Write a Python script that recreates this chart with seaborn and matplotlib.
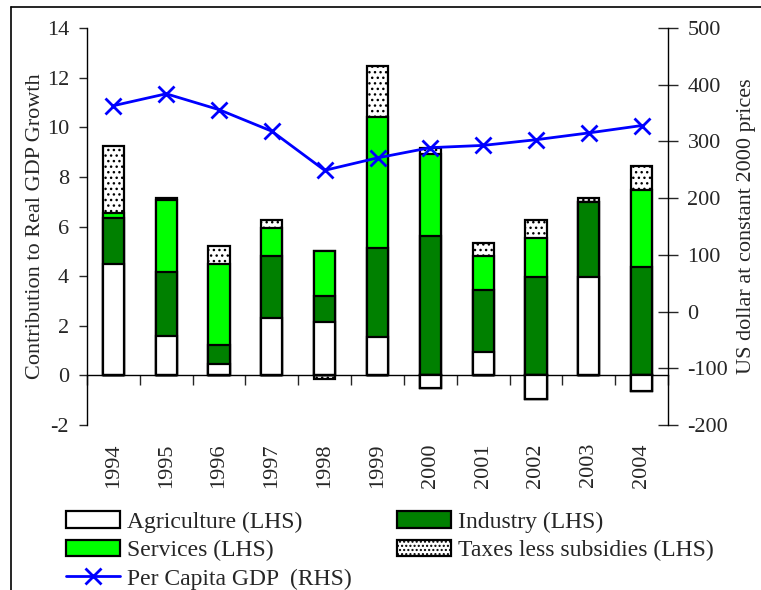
import numpy as np
import pandas as pd
import matplotlib
matplotlib.use("Agg")
import matplotlib.pyplot as plt
import seaborn as sns
from matplotlib.patches import Patch
from matplotlib.lines import Line2D

# ---- data ----
years = ['1994', '1995', '1996', '1997', '1998', '1999', '2000', '2001', '2002', '2003', '2004']
agriculture = [4.50, 1.60, 0.47, 2.33, 2.16, 1.53, -0.49, 0.95, -0.95, 3.95, -0.62]
industry = [1.85, 2.58, 0.74, 2.49, 1.05, 3.61, 5.61, 2.51, 3.95, 3.03, 4.36]
services = [0.21, 2.88, 3.28, 1.11, 1.79, 5.29, 3.30, 1.36, 1.60, 0.00, 3.10]
taxes = [2.68, 0.10, 0.73, 0.34, -0.15, 2.04, 0.25, 0.50, 0.73, 0.17, 0.98]
per_capita = [363, 384, 356, 318, 249, 271, 289, 293, 303, 315, 328]

series_names = ['Agriculture (LHS)', 'Industry (LHS)', 'Services (LHS)', 'Taxes less subsidies (LHS)']
line_name = 'Per Capita GDP  (RHS)'
left_label = 'Contribution to Real GDP Growth'
right_label = 'US dollar at constant 2000 prices'

colors = ['#FFFFFF', '#008000', '#00FF00', '#FFFFFF']
hatches = [None, None, None, '...']
line_color = '#0000FF'

sns.set_style('white')
plt.rcParams['font.family'] = ['Liberation Serif', 'DejaVu Serif']
plt.rcParams['hatch.linewidth'] = 1.0
plt.rcParams['axes.unicode_minus'] = False

fig = plt.figure(figsize=(7.61, 5.90), dpi=100)
ax = fig.add_axes([87 / 761, 1 - 425 / 590, (668 - 87) / 761, (425 - 28) / 590])

layers = np.array([agriculture, industry, services, taxes])
pos_cum = np.cumsum(np.clip(layers, 0, None), axis=0)
neg_cum = np.cumsum(np.clip(layers, None, 0), axis=0)

for i in reversed(range(len(layers))):
    for cum in (pos_cum, neg_cum):
        sns.barplot(x=years, y=cum[i], color=colors[i], saturation=1, edgecolor='black',
                    linewidth=1.6, width=0.4, errorbar=None, hatch=hatches[i], ax=ax)

ax.set_ylim(-2, 14)
ax.set_yticks(np.arange(-2, 15, 2))
ax.set_xlim(-0.5, len(years) - 0.5)
for s in ['top', 'right', 'bottom']:
    ax.spines[s].set_visible(False)
ax.spines['left'].set_linewidth(1.0)
ax.spines['left'].set_color('black')
ax.tick_params(axis='y', direction='out', length=6, width=1, pad=7, labelsize=16, left=True)
ax.tick_params(axis='x', length=0, pad=13, labelsize=16, rotation=90)
ax.set_xlabel('')
ax.set_ylabel(left_label, fontsize=16, labelpad=1)

# zero line with category boundary ticks
sec = ax.secondary_xaxis(2 / 16)
sec.set_xticks(np.arange(len(years) + 1) - 0.5)
sec.set_xticklabels([])
sec.tick_params(direction='out', length=7, width=1)
sec.spines['bottom'].set_linewidth(1.0)
sec.spines['bottom'].set_color('black')

ax2 = ax.twinx()
sns.lineplot(x=np.arange(len(years)), y=per_capita, color=line_color, marker='x',
             markersize=12, markeredgewidth=2, markeredgecolor=line_color, linewidth=2, ax=ax2)
ax2.set_ylim(-200, 500)
ax2.set_yticks(np.arange(-200, 501, 100))
for s in ['top', 'left', 'bottom']:
    ax2.spines[s].set_visible(False)
ax2.spines['right'].set_visible(True)
ax2.spines['right'].set_linewidth(1.0)
ax2.spines['right'].set_color('black')
ax2.tick_params(axis='y', direction='inout', length=14, width=1, pad=7, labelsize=16, right=True)
ax2.set_ylabel(right_label, fontsize=16, labelpad=6)
ax.set_xlim(-0.5, len(years) - 0.5)

handles = [
    Patch(facecolor=colors[0], edgecolor='black', linewidth=1.6, label=series_names[0]),
    Patch(facecolor=colors[2], edgecolor='black', linewidth=1.6, label=series_names[2]),
    Line2D([], [], color=line_color, marker='x', markersize=12, markeredgewidth=2,
           markeredgecolor=line_color, linewidth=2, label=line_name),
    Patch(facecolor=colors[1], edgecolor='black', linewidth=1.6, label=series_names[1]),
    Patch(facecolor=colors[3], edgecolor='black', linewidth=1.6, hatch='....', label=series_names[3]),
]
fig.legend(handles=handles, loc='upper left', bbox_to_anchor=(66 / 761, 1 - 511 / 590), ncol=2,
           frameon=False, fontsize=17, handlelength=2.3, handleheight=0.7, handletextpad=0.3,
           columnspacing=1.9, labelspacing=0.3, borderpad=0, borderaxespad=0)

# outer frame (top and left edges)
fig.add_artist(Line2D([11 / 761, 11 / 761], [0, 1 - 7 / 590], transform=fig.transFigure, color='black', linewidth=1.2))
fig.add_artist(Line2D([11 / 761, 1], [1 - 7 / 590, 1 - 7 / 590], transform=fig.transFigure, color='black', linewidth=1.2))

fig.savefig('out.png', dpi=100)
